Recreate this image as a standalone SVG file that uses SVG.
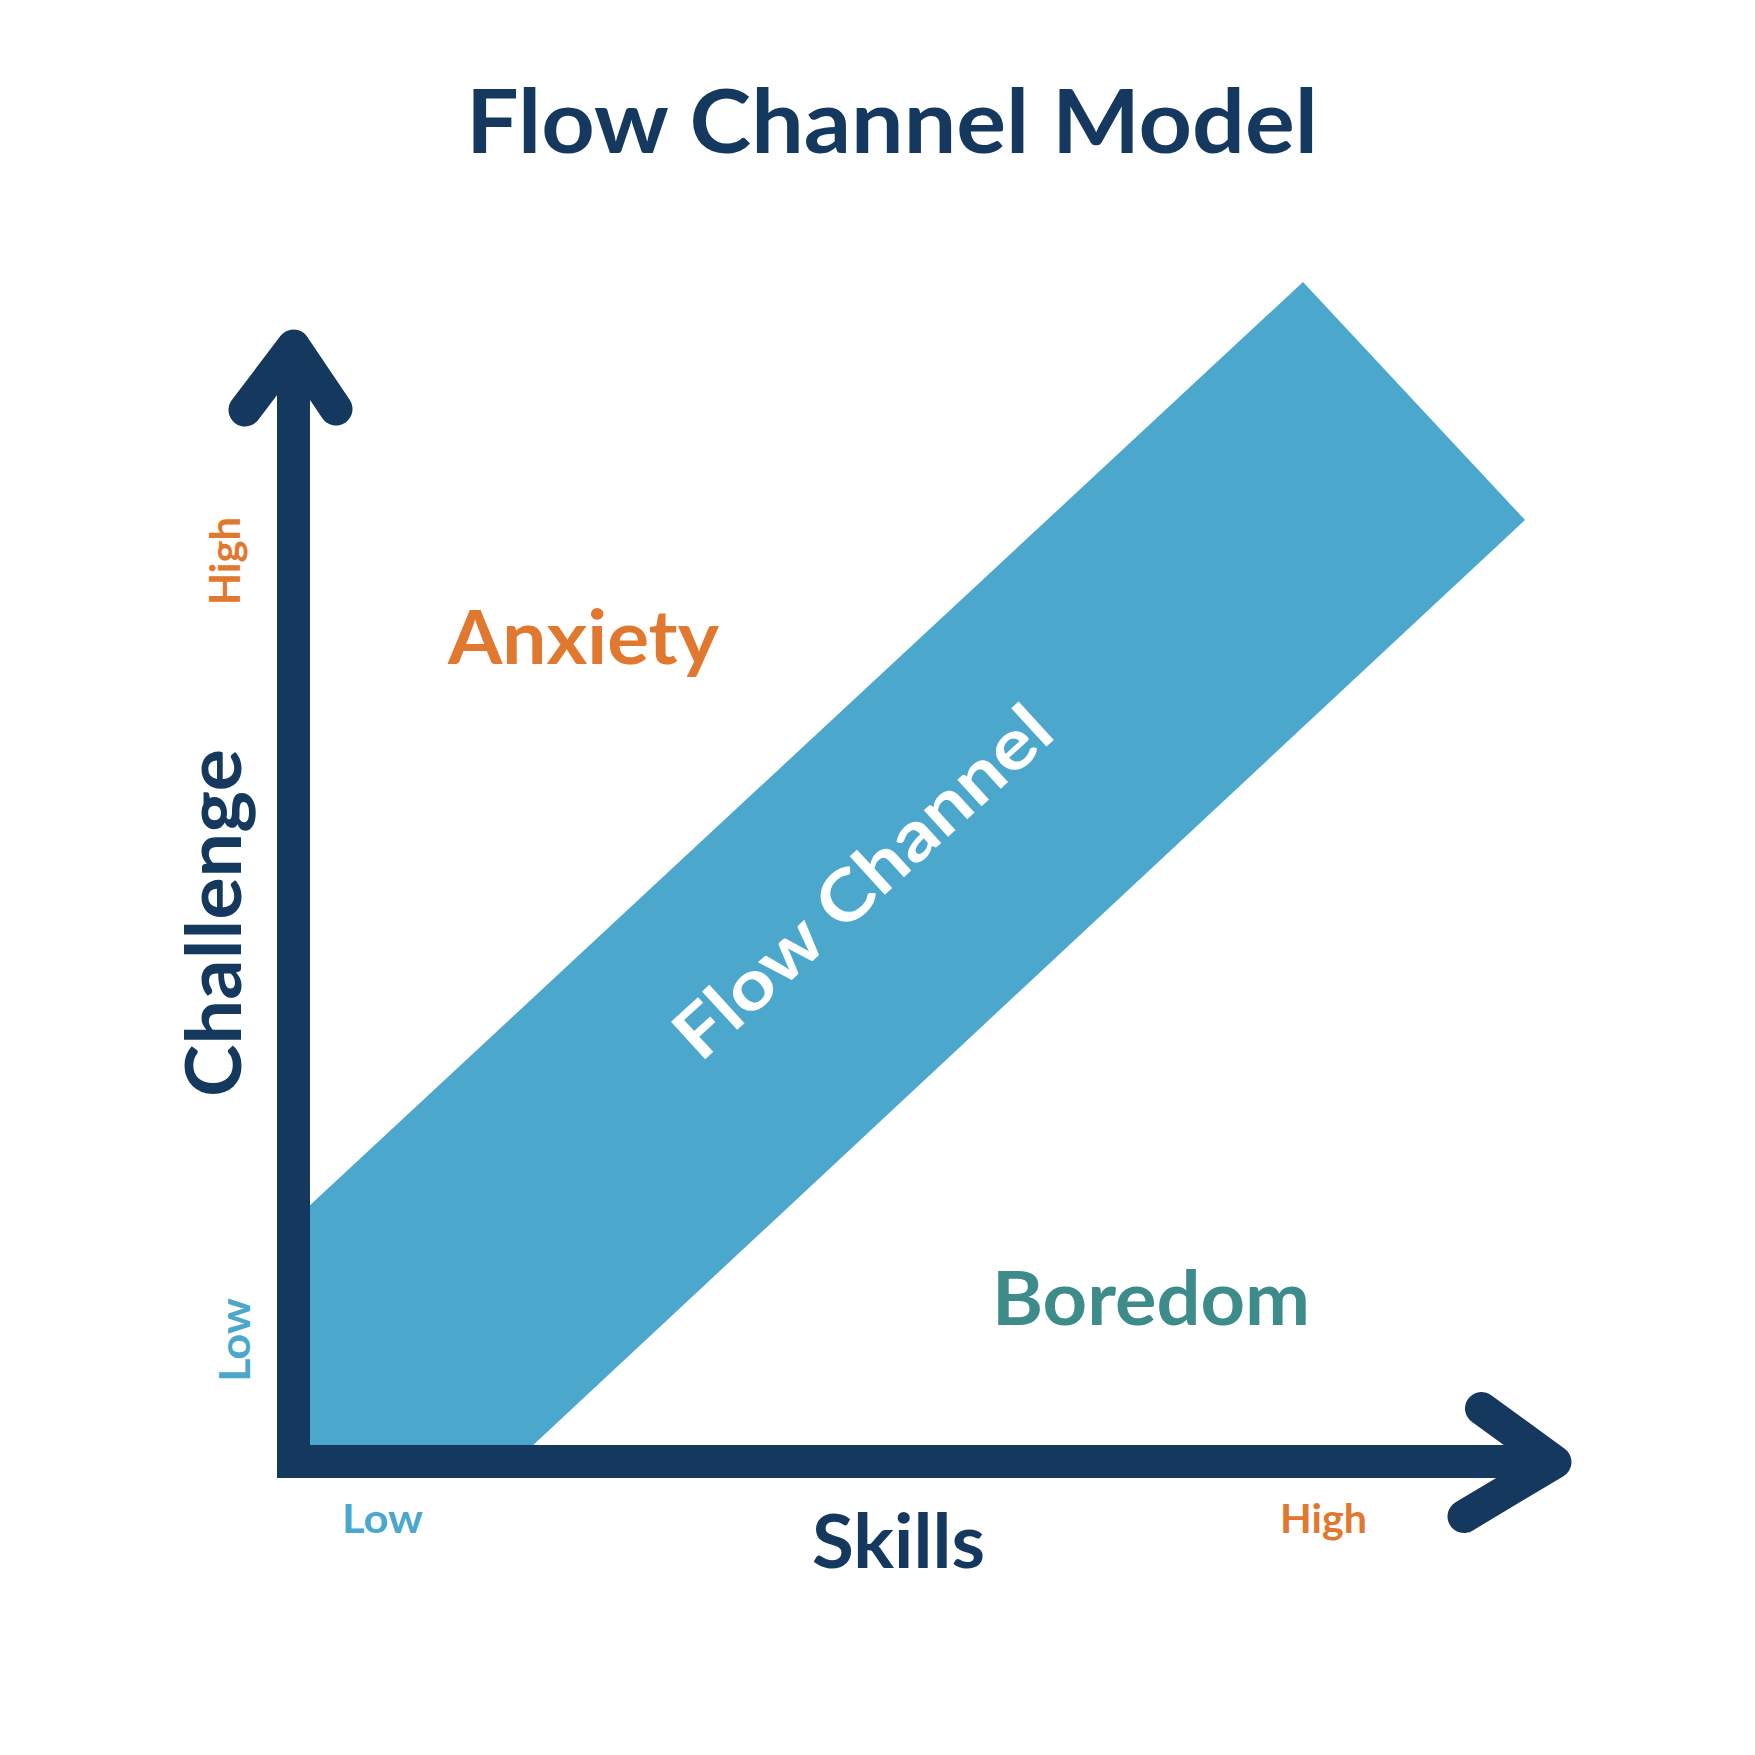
<svg xmlns="http://www.w3.org/2000/svg" width="1755" height="1755" viewBox="0 0 1755 1755">
<style>
.t{font-family:Lato,"Liberation Sans",sans-serif;font-weight:700}
.navy{fill:#15385F}
.orange{fill:#E1782F}
.blue{fill:#4BA7CB}
.teal{fill:#3D8B8B}
.white{fill:#FFFFFF}
.axis{fill:none;stroke:#15385F;stroke-width:33}
.head{fill:none;stroke:#15385F;stroke-width:33;stroke-linecap:round;stroke-linejoin:round}
</style>
<rect width="1755" height="1755" fill="#FFFFFF"/>
<g id="title"><text class="t navy" x="466" y="153" font-size="88" textLength="852" lengthAdjust="spacingAndGlyphs">Flow Channel Model</text></g>
<g id="flow-channel">
<polygon points="293,1221 1303,282 1525,520 515,1462 293,1462" fill="#4BA7CB"/>
<text class="t white" x="879" y="900" font-size="70" text-anchor="middle" textLength="484" lengthAdjust="spacingAndGlyphs" transform="rotate(-42.5 879 900)">Flow Channel</text>
</g>
<g id="connectors">
<path class="axis" d="M293.5,346 L293.5,1461.5 L1555,1461.5" stroke-linejoin="miter"/>
<polyline class="head" points="245,410 293.5,346 336,409"/>
<polyline class="head" points="1481.5,1408.5 1555,1462 1464,1516.5"/>
</g>
<g id="anxiety"><text class="t orange" x="448" y="664" font-size="74" textLength="271" lengthAdjust="spacingAndGlyphs">Anxiety</text></g>
<g id="boredom"><text class="t teal" x="992" y="1325" font-size="74" textLength="318" lengthAdjust="spacingAndGlyphs">Boredom</text></g>
<g id="y-axis-label"><text class="t navy" font-size="77" textLength="348" lengthAdjust="spacingAndGlyphs" transform="translate(241 1097) rotate(-90)">Challenge</text></g>
<g id="y-high"><text class="t orange" font-size="42" textLength="88" lengthAdjust="spacingAndGlyphs" transform="translate(240 605) rotate(-90)">High</text></g>
<g id="y-low"><text class="t blue" font-size="42" textLength="84" lengthAdjust="spacingAndGlyphs" transform="translate(250 1382) rotate(-90)">Low</text></g>
<g id="x-axis-label"><text class="t navy" x="812" y="1568" font-size="75" textLength="173" lengthAdjust="spacingAndGlyphs">Skills</text></g>
<g id="x-low"><text class="t blue" x="342" y="1533" font-size="40" textLength="81" lengthAdjust="spacingAndGlyphs">Low</text></g>
<g id="x-high"><text class="t orange" x="1280" y="1533" font-size="40" textLength="87" lengthAdjust="spacingAndGlyphs">High</text></g>
</svg>
